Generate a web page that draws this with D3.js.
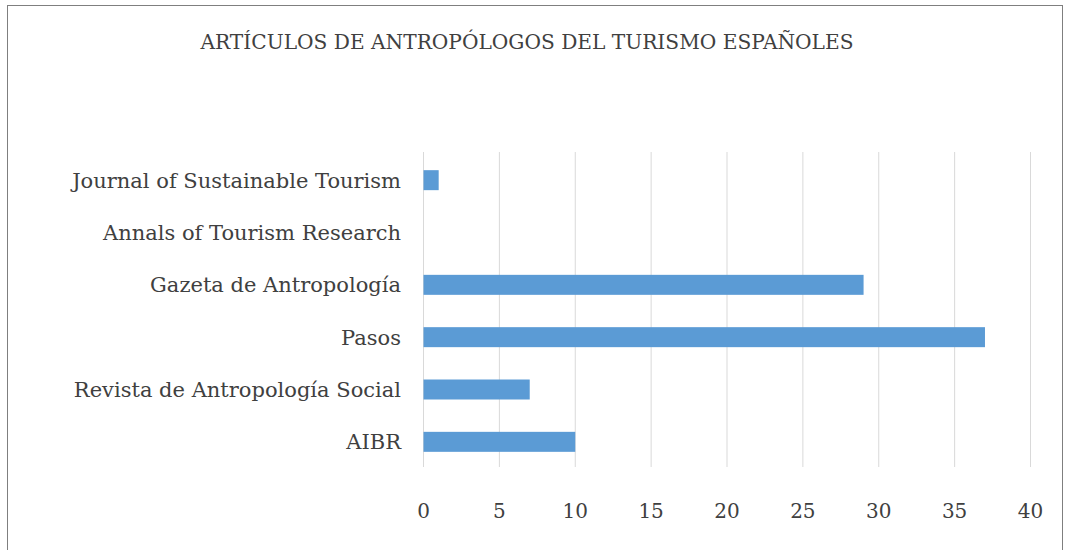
<!DOCTYPE html>
<html>
<head>
<meta charset="utf-8">
<script src="https://cdn.jsdelivr.net/npm/d3@7"></script>
<style>
body { margin: 0; background: #fff; }
text { font-family: "DejaVu Serif", serif; fill: #404040; }
</style>
</head>
<body>
<div id="chart"></div>
<script>
var journals = ["Journal of Sustainable Tourism", "Annals of Tourism Research", "Gazeta de Antropología", "Pasos", "Revista de Antropología Social", "AIBR"];
var articles = [1, 0, 29, 37, 7, 10];
var xTicks = [0, 5, 10, 15, 20, 25, 30, 35, 40];
var title = "ARTÍCULOS DE ANTROPÓLOGOS DEL TURISMO ESPAÑOLES";

var width = 1067, height = 550;
var svg = d3.select("#chart").append("svg")
            .attr("width", width)
            .attr("height", height);

// outer frame
svg.append("rect")
   .attr("x", 7.5).attr("y", 5.5)
   .attr("width", 1055).attr("height", 550)
   .style("fill", "none")
   .style("stroke", "#7f7f7f")
   .style("stroke-width", 1);

svg.append("text")
   .attr("x", 527).attr("y", 49)
   .style("text-anchor", "middle")
   .style("font-size", "20px")
   .attr("textLength", 653)
   .attr("lengthAdjust", "spacingAndGlyphs")
   .text(title);

var x = d3.scaleLinear().domain([0, 40]).range([423.5, 1030.5]);
var y = d3.scaleBand().domain(journals).range([154, 468]).paddingInner(0.618).paddingOuter(0.309);

// gridlines
svg.append("g").selectAll("line")
   .data(xTicks)
   .enter()
   .append("line")
   .attr("x1", function(d){ return x(d); })
   .attr("x2", function(d){ return x(d); })
   .attr("y1", 152)
   .attr("y2", 467)
   .style("stroke", "#d9d9d9")
   .style("stroke-width", 1);

// bars
svg.append("g").selectAll("rect")
   .data(journals)
   .enter()
   .append("rect")
   .attr("x", x(0))
   .attr("y", function(d){ return y(d); })
   .attr("width", function(d, i){ return x(articles[i]) - x(0); })
   .attr("height", y.bandwidth())
   .style("fill", "#5b9bd5");

// category labels
svg.append("g").selectAll("text")
   .data(journals)
   .enter()
   .append("text")
   .attr("x", 401)
   .attr("y", function(d){ return y(d) + y.bandwidth() / 2; })
   .attr("dy", "0.35em")
   .style("text-anchor", "end")
   .style("font-size", "21px")
   .text(function(d){ return d; });

// x tick labels
svg.append("g").selectAll("text")
   .data(xTicks)
   .enter()
   .append("text")
   .attr("x", function(d){ return x(d); })
   .attr("y", 518)
   .style("text-anchor", "middle")
   .style("font-size", "20px")
   .text(function(d){ return d; });
</script>
</body>
</html>
